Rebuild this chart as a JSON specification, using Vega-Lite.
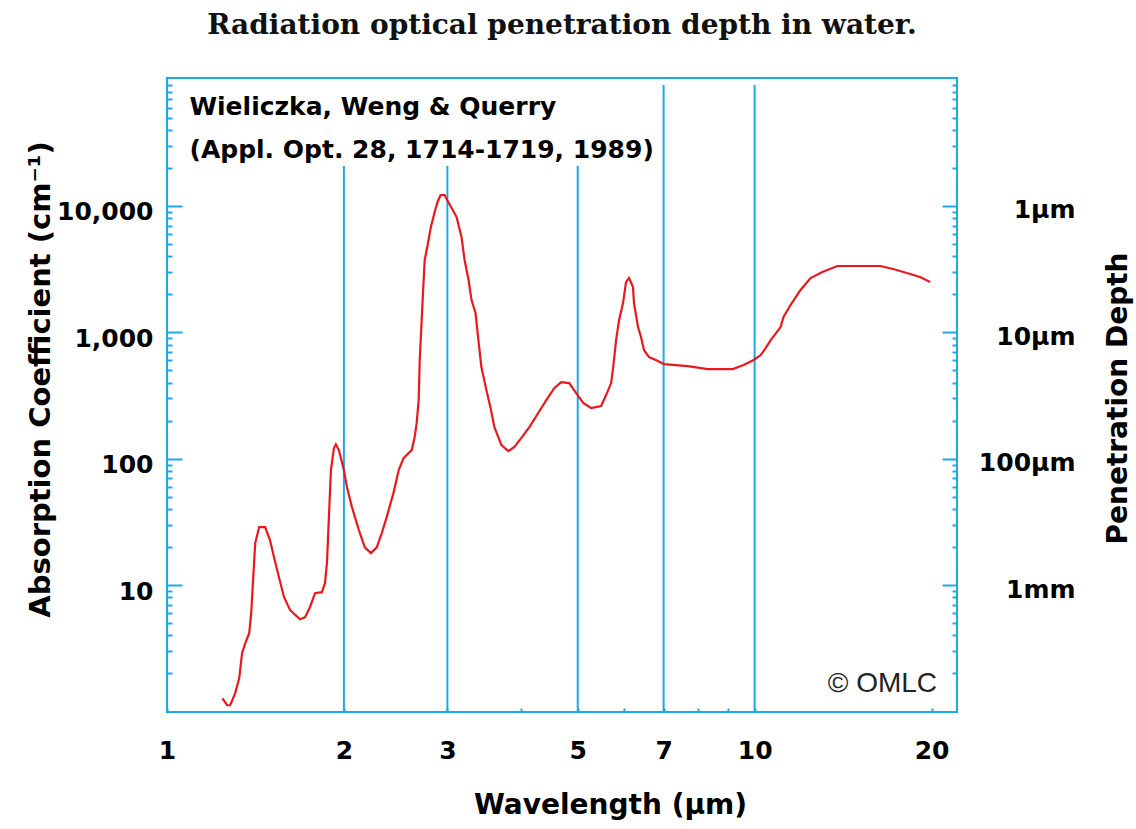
{
  "$schema": "https://vega.github.io/schema/vega-lite/v6.json",
  "width": 790,
  "height": 634,
  "autosize": "none",
  "padding": {"left": 167, "top": 78, "right": 179, "bottom": 117},
  "background": "white",
  "title": {
    "text": "Radiation optical penetration depth in water.",
    "font": "DejaVu Serif",
    "fontSize": 28,
    "fontWeight": "bold",
    "color": "#111111",
    "anchor": "middle",
    "offset": 38
  },
  "config": {
    "view": {"stroke": "#1CA9E6", "strokeWidth": 2},
    "axis": {
      "grid": false,
      "domain": false,
      "tickColor": "#1CA9E6",
      "tickWidth": 2,
      "labelColor": "#000000",
      "labelFont": "DejaVu Sans",
      "labelFontWeight": "bold",
      "labelFontSize": 25,
      "titleColor": "#000000",
      "titleFont": "DejaVu Sans",
      "titleFontWeight": "bold",
      "titleFontSize": 28,
      "labelFlush": false,
      "labelOverlap": false,
      "labelBound": false
    }
  },
  "datasets": {
    "curve": [
      {"w": 1.242, "a": 1.27}, {"w": 1.266, "a": 1.12}, {"w": 1.281, "a": 1.12}, {"w": 1.306, "a": 1.39},
      {"w": 1.327, "a": 1.83}, {"w": 1.342, "a": 2.89}, {"w": 1.359, "a": 3.47}, {"w": 1.38, "a": 4.16},
      {"w": 1.391, "a": 5.99}, {"w": 1.402, "a": 11.5}, {"w": 1.413, "a": 21.5}, {"w": 1.435, "a": 28.7},
      {"w": 1.469, "a": 28.7}, {"w": 1.497, "a": 22.7}, {"w": 1.521, "a": 16.6}, {"w": 1.551, "a": 11.5},
      {"w": 1.582, "a": 8.02}, {"w": 1.62, "a": 6.33}, {"w": 1.684, "a": 5.37}, {"w": 1.718, "a": 5.57},
      {"w": 1.751, "a": 6.68}, {"w": 1.786, "a": 8.62}, {"w": 1.835, "a": 8.79}, {"w": 1.857, "a": 10.35},
      {"w": 1.872, "a": 15.2}, {"w": 1.886, "a": 34.5}, {"w": 1.901, "a": 81.3}, {"w": 1.923, "a": 121},
      {"w": 1.938, "a": 130}, {"w": 1.961, "a": 117}, {"w": 2.0, "a": 81.3}, {"w": 2.024, "a": 59.6},
      {"w": 2.064, "a": 41.4}, {"w": 2.121, "a": 27.2}, {"w": 2.171, "a": 19.9}, {"w": 2.223, "a": 17.9},
      {"w": 2.275, "a": 19.9}, {"w": 2.32, "a": 25.8}, {"w": 2.365, "a": 34.5}, {"w": 2.431, "a": 54.4},
      {"w": 2.479, "a": 81.3}, {"w": 2.527, "a": 101}, {"w": 2.588, "a": 113}, {"w": 2.609, "a": 117},
      {"w": 2.639, "a": 148}, {"w": 2.66, "a": 191}, {"w": 2.681, "a": 291}, {"w": 2.692, "a": 604},
      {"w": 2.723, "a": 1801}, {"w": 2.745, "a": 3737}, {"w": 2.777, "a": 4910}, {"w": 2.81, "a": 6700},
      {"w": 2.854, "a": 8966}, {"w": 2.887, "a": 10760}, {"w": 2.921, "a": 12220}, {"w": 2.967, "a": 12220},
      {"w": 3.05, "a": 9642}, {"w": 3.11, "a": 8182}, {"w": 3.171, "a": 5684}, {"w": 3.209, "a": 3737},
      {"w": 3.26, "a": 2594}, {"w": 3.298, "a": 1801}, {"w": 3.35, "a": 1422}, {"w": 3.388, "a": 869},
      {"w": 3.428, "a": 531}, {"w": 3.496, "a": 349}, {"w": 3.551, "a": 256}, {"w": 3.607, "a": 178},
      {"w": 3.708, "a": 128}, {"w": 3.81, "a": 115}, {"w": 3.901, "a": 124}, {"w": 4.009, "a": 146},
      {"w": 4.137, "a": 178}, {"w": 4.283, "a": 230}, {"w": 4.42, "a": 291}, {"w": 4.56, "a": 362},
      {"w": 4.687, "a": 404}, {"w": 4.836, "a": 397}, {"w": 4.97, "a": 331}, {"w": 5.108, "a": 276},
      {"w": 5.27, "a": 252}, {"w": 5.48, "a": 261}, {"w": 5.588, "a": 319}, {"w": 5.699, "a": 397},
      {"w": 5.743, "a": 521}, {"w": 5.811, "a": 869}, {"w": 5.88, "a": 1252}, {"w": 5.971, "a": 1706},
      {"w": 6.041, "a": 2500}, {"w": 6.113, "a": 2692}, {"w": 6.209, "a": 2284}, {"w": 6.233, "a": 1706},
      {"w": 6.332, "a": 1101}, {"w": 6.407, "a": 918}, {"w": 6.482, "a": 725}, {"w": 6.61, "a": 637},
      {"w": 6.792, "a": 604}, {"w": 7.008, "a": 561}, {"w": 7.697, "a": 541}, {"w": 8.323, "a": 512},
      {"w": 9.178, "a": 512}, {"w": 9.579, "a": 551}, {"w": 9.961, "a": 604}, {"w": 10.24, "a": 661},
      {"w": 10.44, "a": 751}, {"w": 10.65, "a": 869}, {"w": 11.07, "a": 1101}, {"w": 11.2, "a": 1322},
      {"w": 11.51, "a": 1645}, {"w": 11.97, "a": 2163}, {"w": 12.45, "a": 2692}, {"w": 13.04, "a": 3002},
      {"w": 13.83, "a": 3350}, {"w": 16.36, "a": 3350}, {"w": 17.21, "a": 3170}, {"w": 18.4, "a": 2894},
      {"w": 19.12, "a": 2742}, {"w": 19.89, "a": 2500}
    ],
    "grid": [
      {"w": 2, "top": 20700}, {"w": 3, "top": 20700}, {"w": 5, "top": 20700},
      {"w": 7, "top": 90800}, {"w": 10, "top": 90800}
    ],
    "notes": [
      {"w": 1.092, "a": 60800, "label": "Wieliczka, Weng & Querry"},
      {"w": 1.092, "a": 27700, "label": "(Appl. Opt. 28, 1714-1719, 1989)"}
    ],
    "credit": [
      {"w": 20.44, "a": 1.64, "label": "© OMLC"}
    ]
  },
  "encoding": {
    "x": {
      "field": "w", "type": "quantitative",
      "scale": {"type": "log", "domain": [1, 22.1], "nice": false},
      "axis": {
        "values": [1, 2, 3, 4, 5, 6, 7, 8, 9, 10, 20],
        "labelExpr": "(datum.value == 4 || datum.value == 6 || datum.value == 8 || datum.value == 9) ? '' : format(datum.value, 'd')",
        "tickSize": -4,
        "labelPadding": 30,
        "title": "Wavelength (µm)",
        "titleX": 443,
        "titleY": 93,
        "titleBaseline": "middle"
      }
    }
  },
  "layer": [
    {
      "data": {"name": "grid"},
      "mark": {"type": "rule", "color": "#1CA9E6", "strokeWidth": 2},
      "encoding": {
        "y": {
          "field": "top", "type": "quantitative",
          "scale": {"type": "log", "domain": [0.99, 103000], "nice": false},
          "axis": null
        },
        "y2": {"datum": 0.99}
      }
    },
    {
      "data": {"name": "curve"},
      "mark": {"type": "line", "color": "#E8191E", "strokeWidth": 2.2},
      "encoding": {
        "y": {
          "field": "a", "type": "quantitative",
          "scale": {"type": "log", "domain": [0.99, 103000], "nice": false},
          "axis": {
            "orient": "left",
            "values": [10, 100, 1000, 10000],
            "labelExpr": "format(datum.value, ',')",
            "tickSize": -15,
            "labelPadding": 29,
            "labelOffset": 6,
            "title": "Absorption Coefficient (cm⁻¹)",
            "titleFontSize": 29,
            "titleAngle": 270,
            "titleX": -127,
            "titleY": 301,
            "titleAlign": "center",
            "titleBaseline": "middle"
          }
        }
      }
    },
    {
      "data": {"name": "curve"},
      "mark": {"type": "line", "opacity": 0},
      "encoding": {
        "y": {
          "field": "a", "type": "quantitative",
          "scale": {"type": "log", "domain": [0.99, 103000], "nice": false},
          "axis": {
            "orient": "left",
            "values": [2, 3, 4, 5, 6, 7, 8, 9, 20, 30, 40, 50, 60, 70, 80, 90, 200, 300, 400, 500, 600, 700, 800, 900, 2000, 3000, 4000, 5000, 6000, 7000, 8000, 9000, 20000, 30000, 40000, 50000, 60000, 70000, 80000, 90000],
            "labels": false,
            "tickSize": -5,
            "title": null
          }
        }
      }
    },
    {
      "data": {"name": "curve"},
      "mark": {"type": "line", "opacity": 0},
      "encoding": {
        "y": {
          "field": "a", "type": "quantitative",
          "scale": {"type": "log", "domain": [0.99, 103000], "nice": false},
          "axis": {
            "orient": "right",
            "values": [10, 100, 1000, 10000],
            "labelExpr": "datum.value == 10000 ? '1µm' : datum.value == 1000 ? '10µm' : datum.value == 100 ? '100µm' : '1mm'",
            "tickSize": -15,
            "labelAlign": "right",
            "labelPadding": 133,
            "labelOffset": 4,
            "title": "Penetration Depth",
            "titleAngle": 270,
            "titleX": 161,
            "titleY": 320,
            "titleAlign": "center",
            "titleBaseline": "middle"
          }
        }
      }
    },
    {
      "data": {"name": "curve"},
      "mark": {"type": "line", "opacity": 0},
      "encoding": {
        "y": {
          "field": "a", "type": "quantitative",
          "scale": {"type": "log", "domain": [0.99, 103000], "nice": false},
          "axis": {
            "orient": "right",
            "values": [2, 3, 4, 5, 6, 7, 8, 9, 20, 30, 40, 50, 60, 70, 80, 90, 200, 300, 400, 500, 600, 700, 800, 900, 2000, 3000, 4000, 5000, 6000, 7000, 8000, 9000, 20000, 30000, 40000, 50000, 60000, 70000, 80000, 90000],
            "labels": false,
            "tickSize": -5,
            "title": null
          }
        }
      }
    },
    {
      "data": {"name": "notes"},
      "mark": {"type": "text", "align": "left", "baseline": "middle", "font": "DejaVu Sans", "fontWeight": "bold", "fontSize": 25, "color": "#000000"},
      "encoding": {
        "y": {"field": "a", "type": "quantitative", "scale": {"type": "log", "domain": [0.99, 103000], "nice": false}, "axis": null},
        "text": {"field": "label", "type": "nominal"}
      }
    },
    {
      "data": {"name": "credit"},
      "mark": {"type": "text", "align": "right", "baseline": "middle", "font": "Liberation Sans", "fontSize": 28, "color": "#222222"},
      "encoding": {
        "y": {"field": "a", "type": "quantitative", "scale": {"type": "log", "domain": [0.99, 103000], "nice": false}, "axis": null},
        "text": {"field": "label", "type": "nominal"}
      }
    }
  ],
  "resolve": {"scale": {"y": "shared"}, "axis": {"y": "independent"}}
}
